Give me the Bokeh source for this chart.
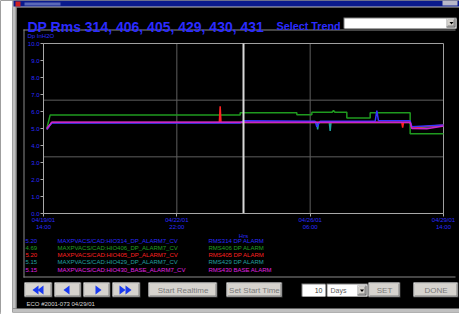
from bokeh.plotting import figure
from bokeh.models import Range1d, FixedTicker
from bokeh.core.properties import value
from bokeh.embed import file_html
from bokeh.resources import INLINE

# ---------------- data ----------------
title_text = "DP Rms 314, 406, 405, 429, 430, 431"
unit_label = "Dp InH2O"
x_axis_label = "Hrs"
x_tick_hours = [0, 80, 160, 240]
x_tick_labels = ["04/19/01\n14:00", "04/22/01\n22:00", "04/26/01\n06:00", "04/29/01\n14:00"]
y_ticks = [0, 1, 2, 3, 4, 5, 6, 7, 8, 9, 10]
y_tick_labels = ["0.0", "1.0", "2.0", "3.0", "4.0", "5.0", "6.0", "7.0", "8.0", "9.0", "10.0"]
grid_x = [80, 160]
grid_y = [10 / 3, 20 / 3]
cursor_hour = 120

green_h = [2, 4, 118, 118, 152, 152, 161, 161, 173, 174, 175, 182, 182, 196, 196, 220, 220, 240]
green_v = [5.0, 5.8, 5.8, 5.92, 5.92, 5.81, 5.81, 5.95, 5.95, 6.05, 5.95, 5.95, 5.62, 5.62, 5.93, 5.93, 4.69, 4.69]
teal_h = [2, 5, 164, 164.5, 165, 171.5, 172, 172.5, 220, 221, 240]
teal_v = [4.95, 5.35, 5.35, 4.95, 5.35, 5.35, 4.85, 5.35, 5.35, 5.05, 5.15]
red_h = [2, 5, 105.5, 106, 106.5, 215, 215.5, 216, 220, 221, 240]
red_v = [4.95, 5.35, 5.35, 6.3, 5.35, 5.35, 5.05, 5.35, 5.35, 5.05, 5.2]
blue_h = [2, 5, 118, 120, 163, 164, 166, 199, 200, 201, 220, 221, 240]
blue_v = [4.95, 5.33, 5.33, 5.45, 5.42, 5.1, 5.42, 5.42, 6.05, 5.45, 5.45, 5.1, 5.2]
magenta_h = [2, 5, 220, 221, 230, 240]
magenta_v = [5.0, 5.37, 5.37, 5.0, 4.98, 5.15]

legend_tags = ["MAXPVACS/CAD:HIO314_DP_ALARM7_CV", "MAXPVACS/CAD:HIO406_DP_ALARM7_CV",
               "MAXPVACS/CAD:HIO405_DP_ALARM7_CV", "MAXPVACS/CAD:HIO429_DP_ALARM7_CV",
               "MAXPVACS/CAD:HIO430_BASE_ALARM7_CV"]
legend_descs = ["RMS314 DP ALARM", "RMS406 DP ALARM", "RMS405 DP ALARM", "RMS429 DP ALARM", "RMS430 BASE ALARM"]
legend_values = [blue_v[-1], green_v[-1], red_v[-1], teal_v[-1], magenta_v[-1]]

buttons_text = ["Start Realtime", "Set Start Time", "SET", "DONE"]
days_value = "10"
days_unit = "Days"
select_label = "Select Trend"
eco_text = "ECO #2001-073 04/29/01"

# ---------------- styles / geometry ----------------
FONT_NAME = "Liberation Sans"
FONT = value(FONT_NAME)
BLUE_TXT = "#2b2bff"
series_colors = ["#3434ff", "#1f9a1f", "#ff2222", "#1fa0a0", "#cc22cc"]
legend_colors = ["#2a2aff", "#22a022", "#ff2020", "#22a0a0", "#e020e0"]
GRAY = "#c0c0c0"
OUTL = "#8a8a8a"
W, H = 459, 314
PL, PR, PT, PB = 43, 443, 43, 213   # plot box in page pixels

x0d, x1d = x_tick_hours[0], x_tick_hours[-1]
y0d, y1d = y_ticks[0], y_ticks[-1]
sx = (PR - PL) / (x1d - x0d)
sy = (PB - PT) / (y1d - y0d)

p = figure(width=W, height=H,
           x_range=Range1d(x0d - PL / sx, x1d + (W - PR) / sx),
           y_range=Range1d(y0d - (H - PB) / sy, y1d + PT / sy),
           min_border=0, background_fill_color="black", border_fill_color="black",
           outline_line_color=None, toolbar_location=None, output_backend="svg")
p.extra_x_ranges = {"px": Range1d(0, W)}
p.extra_y_ranges = {"px": Range1d(H, 0)}
p.grid.visible = False
PX = dict(x_range_name="px", y_range_name="px")


def box(x0, x1, y0, y1, color):
    p.quad(left=[x0], right=[x1], top=[y0], bottom=[y1], fill_color=color, line_color=None, **PX)


def button(x0, x1, y0, y1):
    box(x0, x1, y0, y1, "#404040")
    box(x0, x1 - 1, y0, y1 - 1, "white")
    box(x0 + 1, x1 - 1, y0 + 1, y1 - 1, "#808080")
    box(x0 + 1, x1 - 2, y0 + 1, y1 - 2, "#d6d3ce")


def label(x, y, t, color, size, align="left", baseline="middle", style="normal"):
    p.text(x=x, y=y, text=t, text_color=color, text_font=FONT, text_font_size=size,
           text_font_style=style, text_align=align, text_baseline=baseline, **PX)


# ---------------- window chrome ----------------
box(0, 12, 0, H, "white")
box(12, 15, 0, 308, GRAY)
box(15, 16, 7, 308, "#e8e8e8")
box(12, W, 0, 7, GRAY)
box(13, W, 0, 6, "#0a1a8c")
box(15, 20, 1, 6, "#d02020")
box(24, 60, 2, 5, "#5a68b8")
box(442, 457, 0, 5, "#b8b8c8")
box(12, W, 308, 312, GRAY)
box(0, W, 312, H, "white")
# inner panel outline
box(23, 455, 29, 30, OUTL)
box(23, 24, 29, 277, OUTL)
box(23, 455, 276, 277, OUTL)

label([27], [26.5], [title_text], BLUE_TXT, "14px", baseline="alphabetic", style="bold")
label([276], [25.5], [select_label], BLUE_TXT, "10.8px", baseline="alphabetic", style="bold")
box(343, 456, 17, 28, "#808080")
box(344, 456, 18, 28, "white")
button(446, 455, 18, 27)
p.patch(x=[449, 453, 451], y=[21.5, 21.5, 24], fill_color="black", line_color=None, **PX)
label([27], [35], [unit_label], BLUE_TXT, "6px")

# ---------------- chart ----------------
p.segment(x0=grid_x, y0=[y0d] * len(grid_x), x1=grid_x, y1=[y1d] * len(grid_x),
          line_color="#5e5e5e", line_width=1)
p.segment(x0=[x0d] * len(grid_y), y0=grid_y, x1=[x1d] * len(grid_y), y1=grid_y,
          line_color="#5e5e5e", line_width=1)
p.segment(x0=[x0d, x1d], y0=[y1d, y0d], x1=[x1d, x1d], y1=[y1d, y1d], line_color="#a0a0a0", line_width=1)

series = [(green_h, green_v, series_colors[1]), (teal_h, teal_v, series_colors[3]),
          (red_h, red_v, series_colors[2]), (blue_h, blue_v, series_colors[0]),
          (magenta_h, magenta_v, series_colors[4])]
for hs, vs, c in series:
    p.line(hs, vs, line_color=c, line_width=1.5)
p.segment(x0=[cursor_hour], y0=[y0d], x1=[cursor_hour], y1=[y1d], line_color="#d8d8d8", line_width=2)

p.xaxis.ticker = FixedTicker(ticks=x_tick_hours)
p.xaxis.major_label_overrides = {h: lab for h, lab in zip(x_tick_hours, x_tick_labels)}
p.yaxis.ticker = FixedTicker(ticks=y_ticks)
p.yaxis.major_label_overrides = {t: lab for t, lab in zip(y_ticks, y_tick_labels)}
p.xaxis.axis_label = x_axis_label
p.xaxis.fixed_location = y0d
p.xaxis.bounds = (x0d, x1d)
p.yaxis.fixed_location = x0d
p.yaxis.bounds = (y0d, y1d)
for ax in (p.xaxis, p.yaxis):
    ax.axis_line_color = "#a8a8a8"
    ax.major_tick_line_color = "#a8a8a8"
    ax.minor_tick_line_color = None
    ax.major_tick_in = 0
    ax.major_tick_out = 3
    ax.major_label_text_font = FONT_NAME
    ax.major_label_text_font_size = "6px"
    ax.major_label_text_color = BLUE_TXT
    ax.axis_label_text_font = FONT_NAME
    ax.axis_label_text_font_size = "6px"
    ax.axis_label_text_font_style = "normal"
    ax.axis_label_text_color = BLUE_TXT
    ax.axis_label_standoff = 0
p.xaxis.major_label_standoff = 0
p.yaxis.major_label_standoff = 1

# ---------------- legend ----------------
row_y = [240 + 7.3 * i for i in range(len(legend_tags))]
label([25] * 5, row_y, [f"{v:.2f}" for v in legend_values], legend_colors, "6px")
label([57] * 5, row_y, legend_tags, legend_colors, "6px")
label([208] * 5, row_y, legend_descs, legend_colors, "6px")

# ---------------- buttons ----------------
nav = [(24, 52), (54, 81), (83, 110), (112, 140)]
for x0, x1 in nav:
    button(x0, x1, 282, 297)
p.patches(xs=[[32, 38, 38], [37, 43, 43], [63, 69, 69], [95, 95, 101], [119, 119, 125], [125, 125, 131]],
          ys=[[289.5, 285, 294], [289.5, 285, 294], [289.5, 285, 294], [285, 294, 289.5],
              [285, 294, 289.5], [285, 294, 289.5]], fill_color="#1a3af0", line_color=None, **PX)
txt_btns = [(148, 217), (226, 282), (368, 400), (413, 458)]
for (x0, x1) in txt_btns:
    button(x0, x1, 282, 297)
label([(a + b) / 2 for a, b in txt_btns], [289.5] * 4, buttons_text, "#7a7a7a", "8px", align="center")
box(301, 325, 283, 296, "#808080")
box(302, 325, 284, 296, "white")
label([322], [289.5], [days_value], "#404040", "7px", align="right")
box(326, 367, 283, 296, "#808080")
box(327, 367, 284, 296, "white")
label([330], [289.5], [days_unit], "#606060", "7px")
button(357, 366, 285, 295)
p.patch(x=[359.5, 363.5, 361.5], y=[289, 289, 291.5], fill_color="black", line_color=None, **PX)
label([26], [303], [eco_text], "#d8d8d8", "6px")

open("out.html", "w").write(file_html(p, INLINE))
